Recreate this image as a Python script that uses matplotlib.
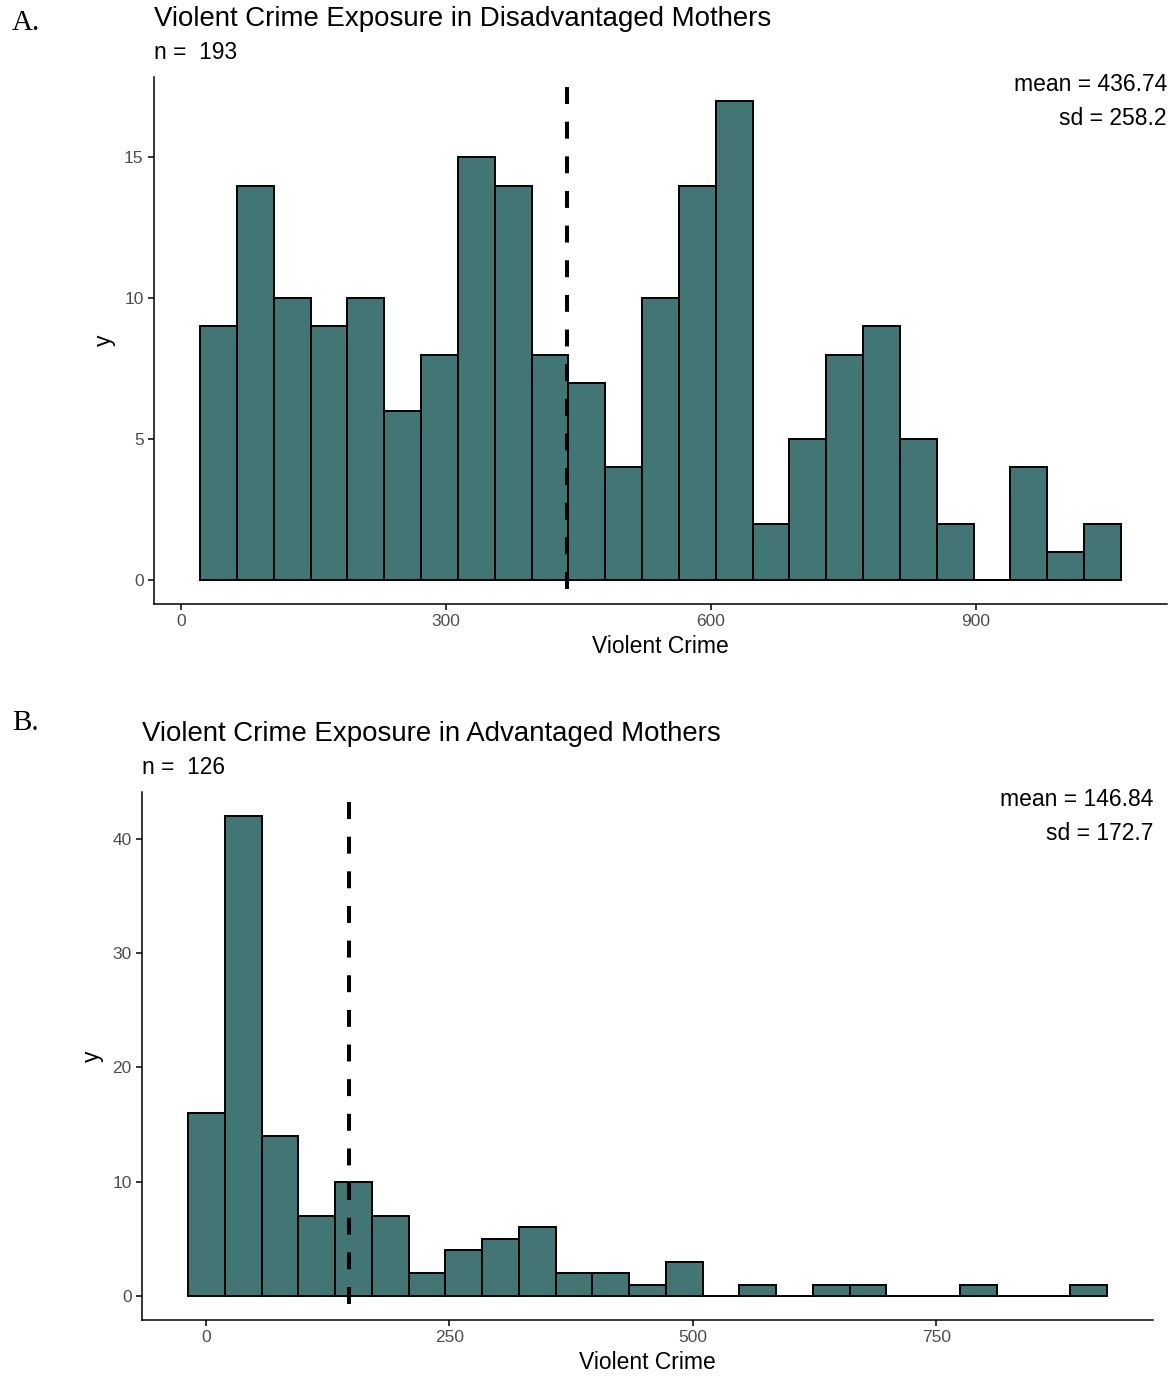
import matplotlib.pyplot as plt
import numpy as np

# panel A: disadvantaged mothers
counts_a = [9, 14, 10, 9, 10, 6, 8, 15, 14, 8, 7, 4, 10, 14, 17,
            2, 5, 8, 9, 5, 2, 0, 4, 1, 2]
start_a = 21.5
width_a = 41.7
mean_a = 436.74
sd_a = 258.2
n_a = 193

# panel B: advantaged mothers
counts_b = [16, 42, 14, 7, 10, 7, 2, 4, 5, 6, 2, 2, 1, 3, 0,
            1, 0, 1, 1, 0, 0, 1, 0, 0, 1]
start_b = -18.4
width_b = 37.75
mean_b = 146.84
sd_b = 172.7
n_b = 126

fill = "#427674"
sans = "Liberation Sans"

fig = plt.figure(figsize=(11.72, 13.76), dpi=100)


def panel(rect, counts, start, width, mean, sd, n, title, letter, xticks, yticks, letter_y):
    ax = fig.add_axes(rect)
    counts = np.array(counts)
    lefts = start + width * np.arange(len(counts))
    ax.bar(lefts, counts, width=width, align="edge", color=fill,
           edgecolor="black", linewidth=1.4)
    # zero-count bins still show a flat outline
    for l, c in zip(lefts, counts):
        if c == 0:
            ax.plot([l, l + width], [0, 0], color="black", lw=1.4)
    # mean line, drawn top to bottom so the dash pattern starts at the top
    ax.axvline(mean, ymin=1, ymax=0, color="black", lw=2.9,
               linestyle=(6.1, (4.2, 4.4)))
    lo = start
    hi = lefts[-1] + width
    pad = (hi - lo) * 0.05
    ax.set_xlim(lo - pad, hi + pad)
    ymax = counts.max()
    ax.set_ylim(-ymax * 0.05, ymax * 1.05)
    ax.set_xticks(xticks)
    ax.set_yticks(yticks)
    for s in ["top", "right"]:
        ax.spines[s].set_visible(False)
    for s in ["left", "bottom"]:
        ax.spines[s].set_linewidth(1.1)
    ax.tick_params(length=4, width=1.1, color="black", labelcolor="#4d4d4d",
                   labelsize=12.5)
    for lab in ax.get_xticklabels() + ax.get_yticklabels():
        lab.set_fontfamily(sans)
    ax.set_xlabel("Violent Crime", fontsize=16.5, family=sans, labelpad=4)
    ax.set_ylabel("y", fontsize=16.5, family=sans, labelpad=6)
    ax.text(0, 1.097, title, transform=ax.transAxes, fontsize=19.9,
            family=sans, ha="left", va="baseline")
    ax.text(0, 1.0345, "n =  %d" % n, transform=ax.transAxes, fontsize=16.4,
            family=sans, ha="left", va="baseline")
    ax.text(1, 0.985, "mean = %.2f" % mean, transform=ax.transAxes,
            fontsize=16.5, family=sans, ha="right", va="center")
    ax.text(1, 0.922, "sd = %.1f" % sd, transform=ax.transAxes,
            fontsize=16.5, family=sans, ha="right", va="center")
    fig.text(0.01, letter_y, letter, fontsize=21, family="Liberation Serif",
             ha="left", va="center")
    return ax


panel([0.1314, 0.5610, 0.8643, 0.3830], counts_a, start_a, width_a,
      mean_a, sd_a, n_a, "Violent Crime Exposure in Disadvantaged Mothers",
      "A.", [0, 300, 600, 900], [0, 5, 10, 15], 1 - 23 / 1376)
panel([0.1212, 0.0407, 0.8626, 0.3837], counts_b, start_b, width_b,
      mean_b, sd_b, n_b, "Violent Crime Exposure in Advantaged Mothers",
      "B.", [0, 250, 500, 750], [0, 10, 20, 30, 40], 1 - 723 / 1376)

fig.savefig("out.png", dpi=100)
